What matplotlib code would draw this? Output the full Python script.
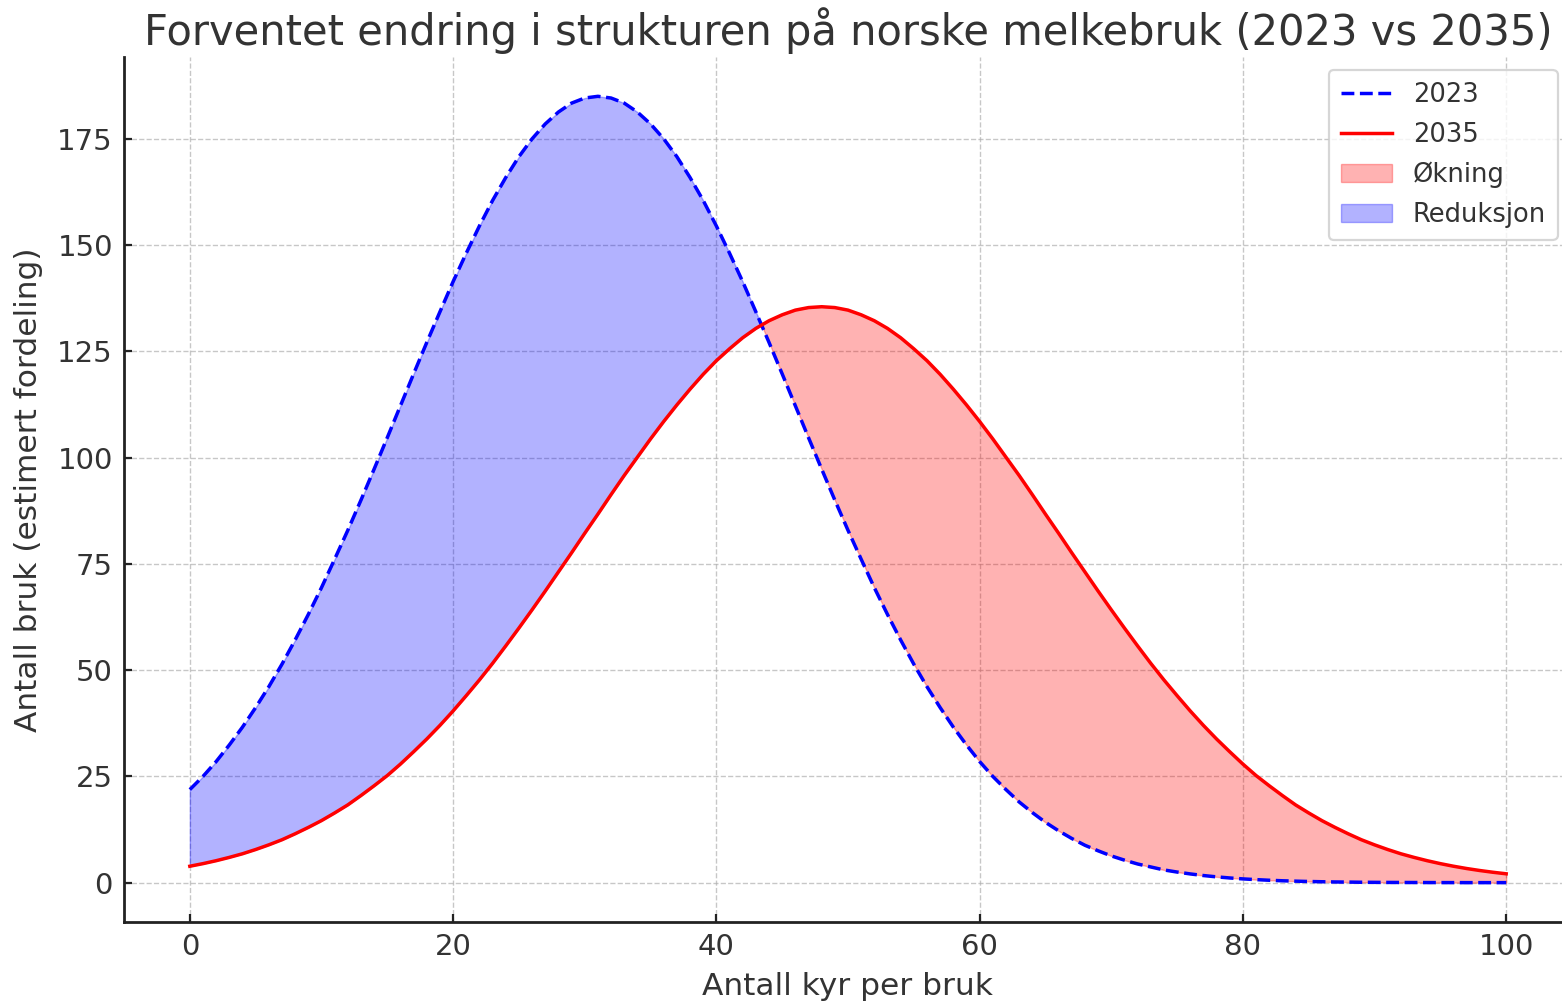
import matplotlib
matplotlib.use("Agg")
import matplotlib.pyplot as plt
import numpy as np

cows = list(range(0, 101))
farms_2023 = [21.9, 25.0, 28.5, 32.4, 36.6, 41.2, 46.1, 51.4, 57.1, 63.1,
              69.4, 76.1, 82.9, 90.0, 97.3, 104.7, 112.2, 119.7, 127.1, 134.3,
              141.4, 148.1, 154.5, 160.5, 165.9, 170.8, 175.0, 178.5, 181.3, 183.4,
              184.6, 185.0, 184.6, 183.4, 181.3, 178.5, 175.0, 170.8, 165.9, 160.5,
              154.5, 148.1, 141.4, 134.3, 127.1, 119.7, 112.2, 104.7, 97.3, 90.0,
              82.9, 76.1, 69.4, 63.1, 57.1, 51.4, 46.1, 41.2, 36.6, 32.4,
              28.5, 25.0, 21.9, 19.0, 16.5, 14.2, 12.2, 10.4, 8.8, 7.5,
              6.3, 5.3, 4.4, 3.7, 3.0, 2.5, 2.06, 1.68, 1.37, 1.11,
              0.89, 0.72, 0.57, 0.45, 0.36, 0.28, 0.22, 0.17, 0.14, 0.10,
              0.08, 0.06, 0.05, 0.04, 0.03, 0.02, 0.02, 0.01, 0.01, 0.01, 0.01]
farms_2035 = [3.87, 4.48, 5.17, 5.95, 6.8, 7.8, 8.9, 10.1, 11.5, 13.0,
              14.6, 16.4, 18.3, 20.5, 22.8, 25.2, 27.9, 30.8, 33.8, 37.0,
              40.4, 44.0, 47.7, 51.6, 55.7, 59.9, 64.2, 68.6, 73.1, 77.6,
              82.2, 86.7, 91.3, 95.8, 100.1, 104.4, 108.5, 112.4, 116.1, 119.6,
              122.8, 125.6, 128.2, 130.4, 132.2, 133.6, 134.7, 135.3, 135.5, 135.3,
              134.7, 133.6, 132.2, 130.4, 128.2, 125.6, 122.8, 119.6, 116.1, 112.4,
              108.5, 104.4, 100.1, 95.8, 91.3, 86.7, 82.2, 77.6, 73.1, 68.6,
              64.2, 59.9, 55.7, 51.6, 47.7, 44.0, 40.4, 37.0, 33.8, 30.8,
              27.9, 25.2, 22.8, 20.5, 18.3, 16.4, 14.6, 13.0, 11.5, 10.1,
              8.9, 7.8, 6.8, 5.95, 5.17, 4.48, 3.87, 3.33, 2.86, 2.45, 2.09]

title = "Forventet endring i strukturen på norske melkebruk (2023 vs 2035)"
xlabel = "Antall kyr per bruk"
ylabel = "Antall bruk (estimert fordeling)"
x_ticks = [0, 20, 40, 60, 80, 100]
y_ticks = [0, 25, 50, 75, 100, 125, 150, 175]

txt = "#333333"
plt.rcParams.update({
    "font.family": "DejaVu Sans",
    "text.color": txt,
    "axes.labelcolor": txt,
    "xtick.color": txt,
    "ytick.color": txt,
})

fig = plt.figure(figsize=(15.62, 10.05), dpi=100)
ax = fig.add_axes([124 / 1562, 1 - 922 / 1005, (1572 - 124) / 1562, (922 - 57) / 1005])

x = np.array(cows, dtype=float)
a = np.array(farms_2023)
b = np.array(farms_2035)

ax.plot(x, a, "--", color="blue", lw=2.5, label="2023")
ax.plot(x, b, "-", color="red", lw=2.5, label="2035")
ax.fill_between(x, a, b, where=b > a, interpolate=True, color="red", alpha=0.3, label="Økning")
ax.fill_between(x, a, b, where=b <= a, interpolate=True, color="blue", alpha=0.3, label="Reduksjon")

ax.set_xlim(-5, 105)
ax.set_ylim(-9.25, 194.25)
ax.set_xticks(x_ticks)
ax.set_yticks(y_ticks)

ax.grid(True, linestyle="--", color="#b0b0b0", alpha=0.7, lw=1.0)
ax.set_axisbelow(True)
for s in ["top", "right"]:
    ax.spines[s].set_visible(False)
for s in ["left", "bottom"]:
    ax.spines[s].set_linewidth(2.0)
    ax.spines[s].set_color("#222222")
ax.tick_params(axis="both", labelsize=21, direction="in", length=6, width=1.6,
               color="#222222", pad=8)

ax.set_title(title, fontsize=30, pad=9)
ax.set_xlabel(xlabel, fontsize=22.5, labelpad=8)
ax.set_ylabel(ylabel, fontsize=22.5, labelpad=10)

leg = ax.legend(loc="upper right", fontsize=18.5, frameon=True, fancybox=True,
                framealpha=0.8, edgecolor="#cccccc", borderpad=0.45,
                labelspacing=0.55, borderaxespad=0, bbox_to_anchor=(0.990, 0.985))
leg.get_frame().set_linewidth(1.6)

fig.savefig("out.png", dpi=100)
